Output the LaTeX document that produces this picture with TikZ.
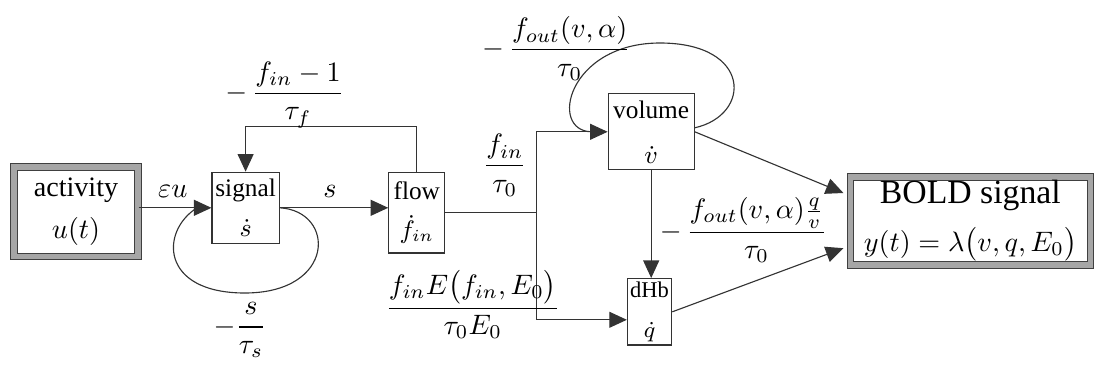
\documentclass[tikz,border=0pt]{standalone}
\usepackage{amsmath}
\usepackage{fontspec}
\setmainfont{Liberation Serif}
\usetikzlibrary{arrows.meta}

\begin{document}
\begin{tikzpicture}[x=1cm,y=1cm,font=\small,
   blk/.style={draw=black!80,align=center,inner sep=1pt},
   ends/.style={draw=black!75,double=black!35,double distance=1.8pt,align=center,inner sep=1pt},
   arr/.style={draw=black!80,-{Triangle[length=2.2mm,width=2mm]}}]
  \useasboundingbox (0,0) rectangle (13.7,4.6375);
  % blocks
  \node[ends,minimum width=1.55cm,minimum height=1.12cm,font=\normalsize] (act) at (0.95,1.99) {activity\\[3pt]$u(t)$};
  \node[blk,minimum width=0.84cm,minimum height=0.89cm]  (sig) at (3.07,2.04) {signal\\[3pt]$\dot s$};
  \node[blk,minimum width=0.7cm,minimum height=1.01cm]   (flw) at (5.21,1.98) {flow\\[3pt]$\dot f_{in}$};
  \node[blk,minimum width=1.075cm,minimum height=0.95cm] (vol) at (8.14,2.99) {volume\\[5pt]$\dot v$};
  \node[blk,minimum width=0.51cm,minimum height=0.71cm,font=\footnotesize] (dhb) at (8.12,0.74) {dHb\\[5pt]$\dot q$};
  \node[ends,minimum width=3cm,minimum height=1.1cm,font=\large] (bold) at (12.13,1.875)
     {BOLD signal\\[3pt]{\normalsize$y(t)=\lambda\bigl(v,q,E_0\bigr)$}};
  \coordinate (jn) at (6.71,1.98);
  % connectors
  \draw[arr] (act.east |- sig.west) -- (sig.west);
  \draw[arr] (sig.east) -- (sig.east -| flw.west);
  \draw[arr] (flw.north) -- ++(0,0.565) -| (sig.north);
  \draw[draw=black!80] (flw.east) -- (jn);
  \draw[arr] (jn) |- (vol.west);
  \draw[arr] (jn) |- ([yshift=-0.1cm]dhb.west);
  \draw[arr] (vol.south) -- (vol.south |- dhb.north);
  \draw[arr] (vol.east) -- ([xshift=-0.08cm,yshift=0.35cm]bold.west);
  \draw[arr] (dhb.east) -- ([xshift=-0.08cm,yshift=-0.34cm]bold.west);
  % self loops
  \draw[draw=black!80] (sig.east) .. controls (4.2,2.0) and (4.2,0.975) .. (3.06,0.975)
     .. controls (2.0,0.975) and (2.0,1.75) .. ([xshift=-0.18cm]sig.west);
  \draw[draw=black!80] ([yshift=0.05cm]vol.east) .. controls (9.4,3.2) and (9.4,4.1) .. (8.25,4.1)
     .. controls (7.1,4.1) and (6.85,3.0) .. ([xshift=-0.2cm]vol.west);
  % rates
  \node[font=\normalsize] (leu) at (2.16,2.24) {$\varepsilon u$};
  \node[font=\normalsize] (ls)  at (4.125,2.24) {$s$};
  \node[font=\normalsize] (lff) at (3.56,3.45) {$-\,\dfrac{f_{in}-1}{\tau_f}$};
  \node[font=\normalsize] (lss) at (3.0,0.51) {$-\dfrac{s}{\tau_s}$};
  \node[font=\normalsize] (lfv) at (6.31,2.57) {$\dfrac{f_{in}}{\tau_0}$};
  \node[font=\normalsize,anchor=west,inner sep=0pt] (lvv) at (6.02,4.03) {$-\,\dfrac{f_{out}(v,\alpha)}{\tau_0}$};
  \node[font=\normalsize,anchor=west,inner sep=0pt] (lvq) at (8.24,1.76) {$-\,\dfrac{f_{out}(v,\alpha)\frac{q}{v}}{\tau_0}$};
  \node[font=\normalsize] (lfq) at (5.91,0.83) {$\dfrac{f_{in}E\bigl(f_{in},E_0\bigr)}{\tau_0E_0}$};
\end{tikzpicture}
\end{document}
